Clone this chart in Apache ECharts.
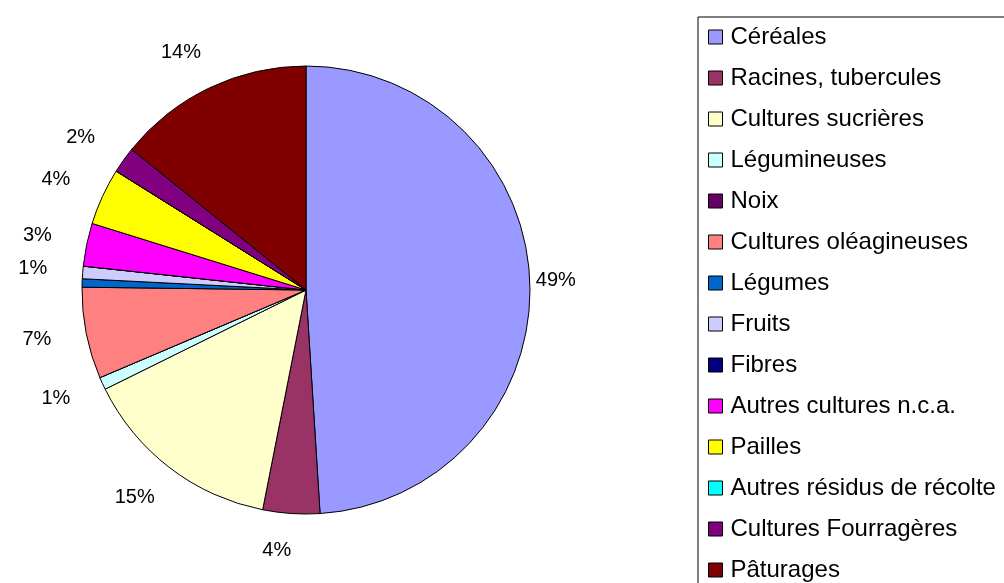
<!DOCTYPE html>
<html>
<head>
<meta charset="utf-8">
<script src="https://cdn.jsdelivr.net/npm/echarts@6/dist/echarts.min.js"></script>
<style>
  html, body { margin: 0; padding: 0; background: #fff; }
  #chart { width: 1004px; height: 583px; }
</style>
</head>
<body>
<div id="chart"></div>
<script>
// Répartition de la biomasse par type de culture (%)
const categories = [
  'Céréales', 'Racines, tubercules', 'Cultures sucrières', 'Légumineuses',
  'Noix', 'Cultures oléagineuses', 'Légumes', 'Fruits', 'Fibres',
  'Autres cultures n.c.a.', 'Pailles', 'Autres résidus de récolte',
  'Cultures Fourragères', 'Pâturages'
];
const shares = [49.0, 4.1, 14.6, 0.9, 0, 6.6, 0.6, 0.9, 0, 3.1, 4.1, 0, 1.9, 14.2];
const colors = [
  '#9999FF', '#993366', '#FFFFCC', '#CCFFFF', '#660066', '#FF8080', '#0066CC',
  '#CCCCFF', '#000080', '#FF00FF', '#FFFF00', '#00FFFF', '#800080', '#800000'
];
// Parts sans étiquette de pourcentage
const unlabelled = ['Noix', 'Légumes', 'Fibres', 'Autres résidus de récolte'];

const font = 'Liberation Sans, Arial, sans-serif';
const pieData = categories.map((name, i) => ({
  name, value: shares[i], itemStyle: { color: colors[i] }
}));
const labelData = categories.map((name, i) => ({
  name, value: shares[i],
  label: { show: unlabelled.indexOf(name) < 0 }
}));

const chart = echarts.init(document.getElementById('chart'), null, { renderer: 'canvas' });
chart.setOption({
  animation: false,
  backgroundColor: '#ffffff',
  legend: {
    orient: 'vertical',
    left: 698,
    top: 17,
    height: 640,
    data: categories,
    selectedMode: false,
    icon: 'rect',
    itemWidth: 14,
    itemHeight: 14,
    itemGap: 17,
    padding: [8, 60, 10, 10],
    borderColor: '#000',
    borderWidth: 1,
    textStyle: {
      fontFamily: font, fontSize: 24, color: '#000', lineHeight: 24,
      padding: [0, 0, 0, 3]
    },
    itemStyle: { borderColor: '#000', borderWidth: 1 }
  },
  series: [
    {
      type: 'pie',
      center: [306, 290],
      radius: 224,
      startAngle: 90,
      clockwise: true,
      avoidLabelOverlap: false,
      silent: true,
      label: { show: false },
      labelLine: { show: false },
      itemStyle: { borderColor: '#000', borderWidth: 1 },
      data: pieData
    },
    {
      // anneau invisible portant les étiquettes de pourcentage
      type: 'pie',
      center: [294, 289],
      radius: [248, 270],
      startAngle: 90,
      clockwise: true,
      avoidLabelOverlap: false,
      silent: true,
      itemStyle: { color: 'rgba(0,0,0,0)', borderWidth: 0 },
      label: {
        position: 'inside',
        fontFamily: font,
        fontSize: 20,
        color: '#000',
        formatter: p => Math.round(p.percent) + '%'
      },
      labelLine: { show: false },
      data: labelData
    }
  ]
});
</script>
</body>
</html>
